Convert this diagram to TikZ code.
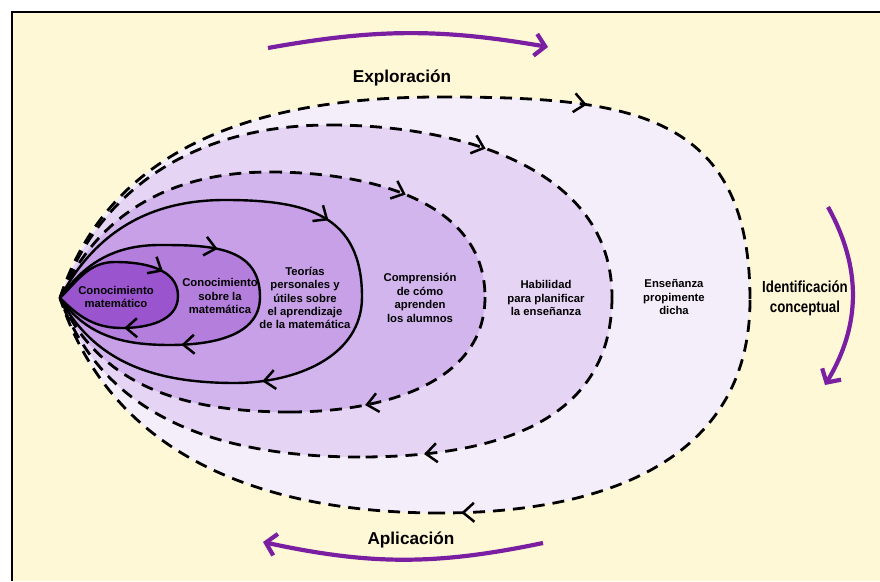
\documentclass[tikz,border=0pt]{standalone}
\usepackage{fontspec}
\setmainfont{Liberation Sans}
\newfontfamily\condfont{Liberation Sans}[FakeStretch=0.83]
\usetikzlibrary{arrows.meta,decorations.markings}
\definecolor{cream}{HTML}{FFF8D6}
\definecolor{cA}{HTML}{F4EEFB}
\definecolor{cB}{HTML}{E6D4F5}
\definecolor{cC}{HTML}{D3B5EE}
\definecolor{cD}{HTML}{C7A0E7}
\definecolor{cE}{HTML}{B47EDC}
\definecolor{cF}{HTML}{9A55CE}
\definecolor{arrowpurple}{HTML}{7B1FA2}
\begin{document}
\begin{tikzpicture}[x=1pt,y=1pt,
  dashline/.style={line width=2.8pt, dash pattern=on 12pt off 8pt, black},
  solidline/.style={line width=2.4pt, black},
  arrowat/.style={postaction={decorate,decoration={markings,mark=at position #1 with {\arrow[solid]{Straight Barb[length=11pt,width=19pt,line width=2.5pt]}}}}},
  lbl/.style={align=center, font=\bfseries\fontsize{11.3}{13.4}\selectfont, text=black, inner sep=0pt},
  ttl/.style={align=center, font=\bfseries\fontsize{17.2}{20}\selectfont, text=black, inner sep=0pt},
  purparrow/.style={draw=arrowpurple, line width=4.2pt, -{Straight Barb[length=10pt,width=22pt]}},
]
\useasboundingbox (0,0) rectangle (880,581);
\fill[white] (0,0) rectangle (880,581);
\fill[cream] (12,0) rectangle (880,569);
\draw[line width=2.6pt] (12,0) -- (12,569) -- (880,569);

\coordinate (L) at (60,283);
\coordinate (T6) at (440,484); \coordinate (R6) at (750,281); \coordinate (B6) at (440,68);
\coordinate (T5) at (330,456); \coordinate (R5) at (612,284); \coordinate (B5) at (360,124);
\coordinate (T4) at (270,409); \coordinate (R4) at (485,284); \coordinate (B4) at (290,169);
\coordinate (T3) at (225,381); \coordinate (R3) at (362,284); \coordinate (B3) at (235,198);
\coordinate (T2) at (160,336); \coordinate (R2) at (260,284); \coordinate (B2) at (170,236);
\coordinate (T1) at (115,319); \coordinate (R1) at (178,285); \coordinate (B1) at (122,253);

% fills
\fill[cA] (L) to[out=72,in=180] (T6) to[out=0,in=90,looseness=1.3] (R6) to[out=-90,in=0,looseness=1.1] (B6) to[out=180,in=-72] (L) -- cycle;
\fill[cB] (L) to[out=70,in=180] (T5) to[out=0,in=90] (R5) to[out=-90,in=0,looseness=1.1] (B5) to[out=180,in=-70] (L) -- cycle;
\fill[cC] (L) to[out=66,in=180] (T4) to[out=0,in=90] (R4) to[out=-90,in=0] (B4) to[out=180,in=-66] (L) -- cycle;
\fill[cD] (L) to[out=62,in=180] (T3) to[out=0,in=90,looseness=1.25] (R3) to[out=-90,in=0] (B3) to[out=180,in=-62] (L) -- cycle;
\fill[cE] (L) to[out=55,in=180] (T2) to[out=0,in=90,looseness=1.15] (R2) to[out=-90,in=0] (B2) to[out=180,in=-55] (L) -- cycle;
\fill[cF] (L) to[out=45,in=180] (T1) to[out=0,in=90] (R1) to[out=-90,in=0] (B1) to[out=180,in=-45] (L) -- cycle;

% outlines shape 6
\draw[dashline] (L) to[out=72,in=180] (T6);
\draw[dashline,arrowat=0.34] (T6) to[out=0,in=90,looseness=1.3] (R6);
\draw[dashline,arrowat=0.95] (R6) to[out=-90,in=0,looseness=1.1] (B6);
\draw[dashline] (B6) to[out=180,in=-72] (L);
% shape 5
\draw[dashline] (L) to[out=70,in=180] (T5);
\draw[dashline,arrowat=0.43] (T5) to[out=0,in=90] (R5);
\draw[dashline,arrowat=0.81] (R5) to[out=-90,in=0,looseness=1.1] (B5);
\draw[dashline] (B5) to[out=180,in=-70] (L);
% shape 4
\draw[dashline] (L) to[out=66,in=180] (T4);
\draw[dashline,arrowat=0.5] (T4) to[out=0,in=90] (R4);
\draw[dashline,arrowat=0.7] (R4) to[out=-90,in=0] (B4);
\draw[dashline] (B4) to[out=180,in=-66] (L);
% shape 3
\draw[solidline] (L) to[out=62,in=180] (T3);
\draw[solidline,arrowat=0.55] (T3) to[out=0,in=90,looseness=1.25] (R3);
\draw[solidline,arrowat=0.84] (R3) to[out=-90,in=0] (B3);
\draw[solidline] (B3) to[out=180,in=-62] (L);
% shape 2
\draw[solidline] (L) to[out=55,in=180] (T2);
\draw[solidline,arrowat=0.45] (T2) to[out=0,in=90,looseness=1.15] (R2);
\draw[solidline,arrowat=0.9] (R2) to[out=-90,in=0] (B2);
\draw[solidline] (B2) to[out=180,in=-55] (L);
% shape 1
\draw[solidline] (L) to[out=45,in=180] (T1);
\draw[solidline,arrowat=0.62] (T1) to[out=0,in=90] (R1);
\draw[solidline,arrowat=0.97] (R1) to[out=-90,in=0] (B1);
\draw[solidline] (B1) to[out=180,in=-45] (L);

% labels
\node[lbl] (n1) at (116,284) {Conocimiento\\matemático};
\node[lbl] (n2) at (220,285) {Conocimiento\\sobre la\\matemática};
\node[lbl] (n3) at (305,283) {Teorías\\personales y\\útiles sobre\\el aprendizaje\\de la matemática};
\node[lbl] (n4) at (420,283) {Comprensión\\de cómo\\aprenden\\los alumnos};
\node[lbl] (n5) at (546,283) {Habilidad\\para planificar\\la enseñanza};
\node[lbl] (n6) at (674,284) {Enseñanza\\propimente\\dicha};

\node[ttl] (exp) at (402,503) {Exploración};
\node[ttl] (apl) at (411,41) {Aplicación};
\node[align=center, font=\condfont\bfseries\fontsize{16}{20}\selectfont, inner sep=0pt] (idc) at (805,283) {Identificación\\conceptual};

\coordinate (e1) at (268,533); \coordinate (e2) at (548,534);
\coordinate (a1) at (543,38); \coordinate (a2) at (263,39);
\coordinate (i1) at (828,374); \coordinate (i2) at (825,196);
\draw[purparrow] (e1) to[bend left=10] (e2);
\draw[purparrow] (a1) to[bend left=12] (a2);
\draw[purparrow] (i1) to[bend left=30] (i2);
\end{tikzpicture}
\end{document}
